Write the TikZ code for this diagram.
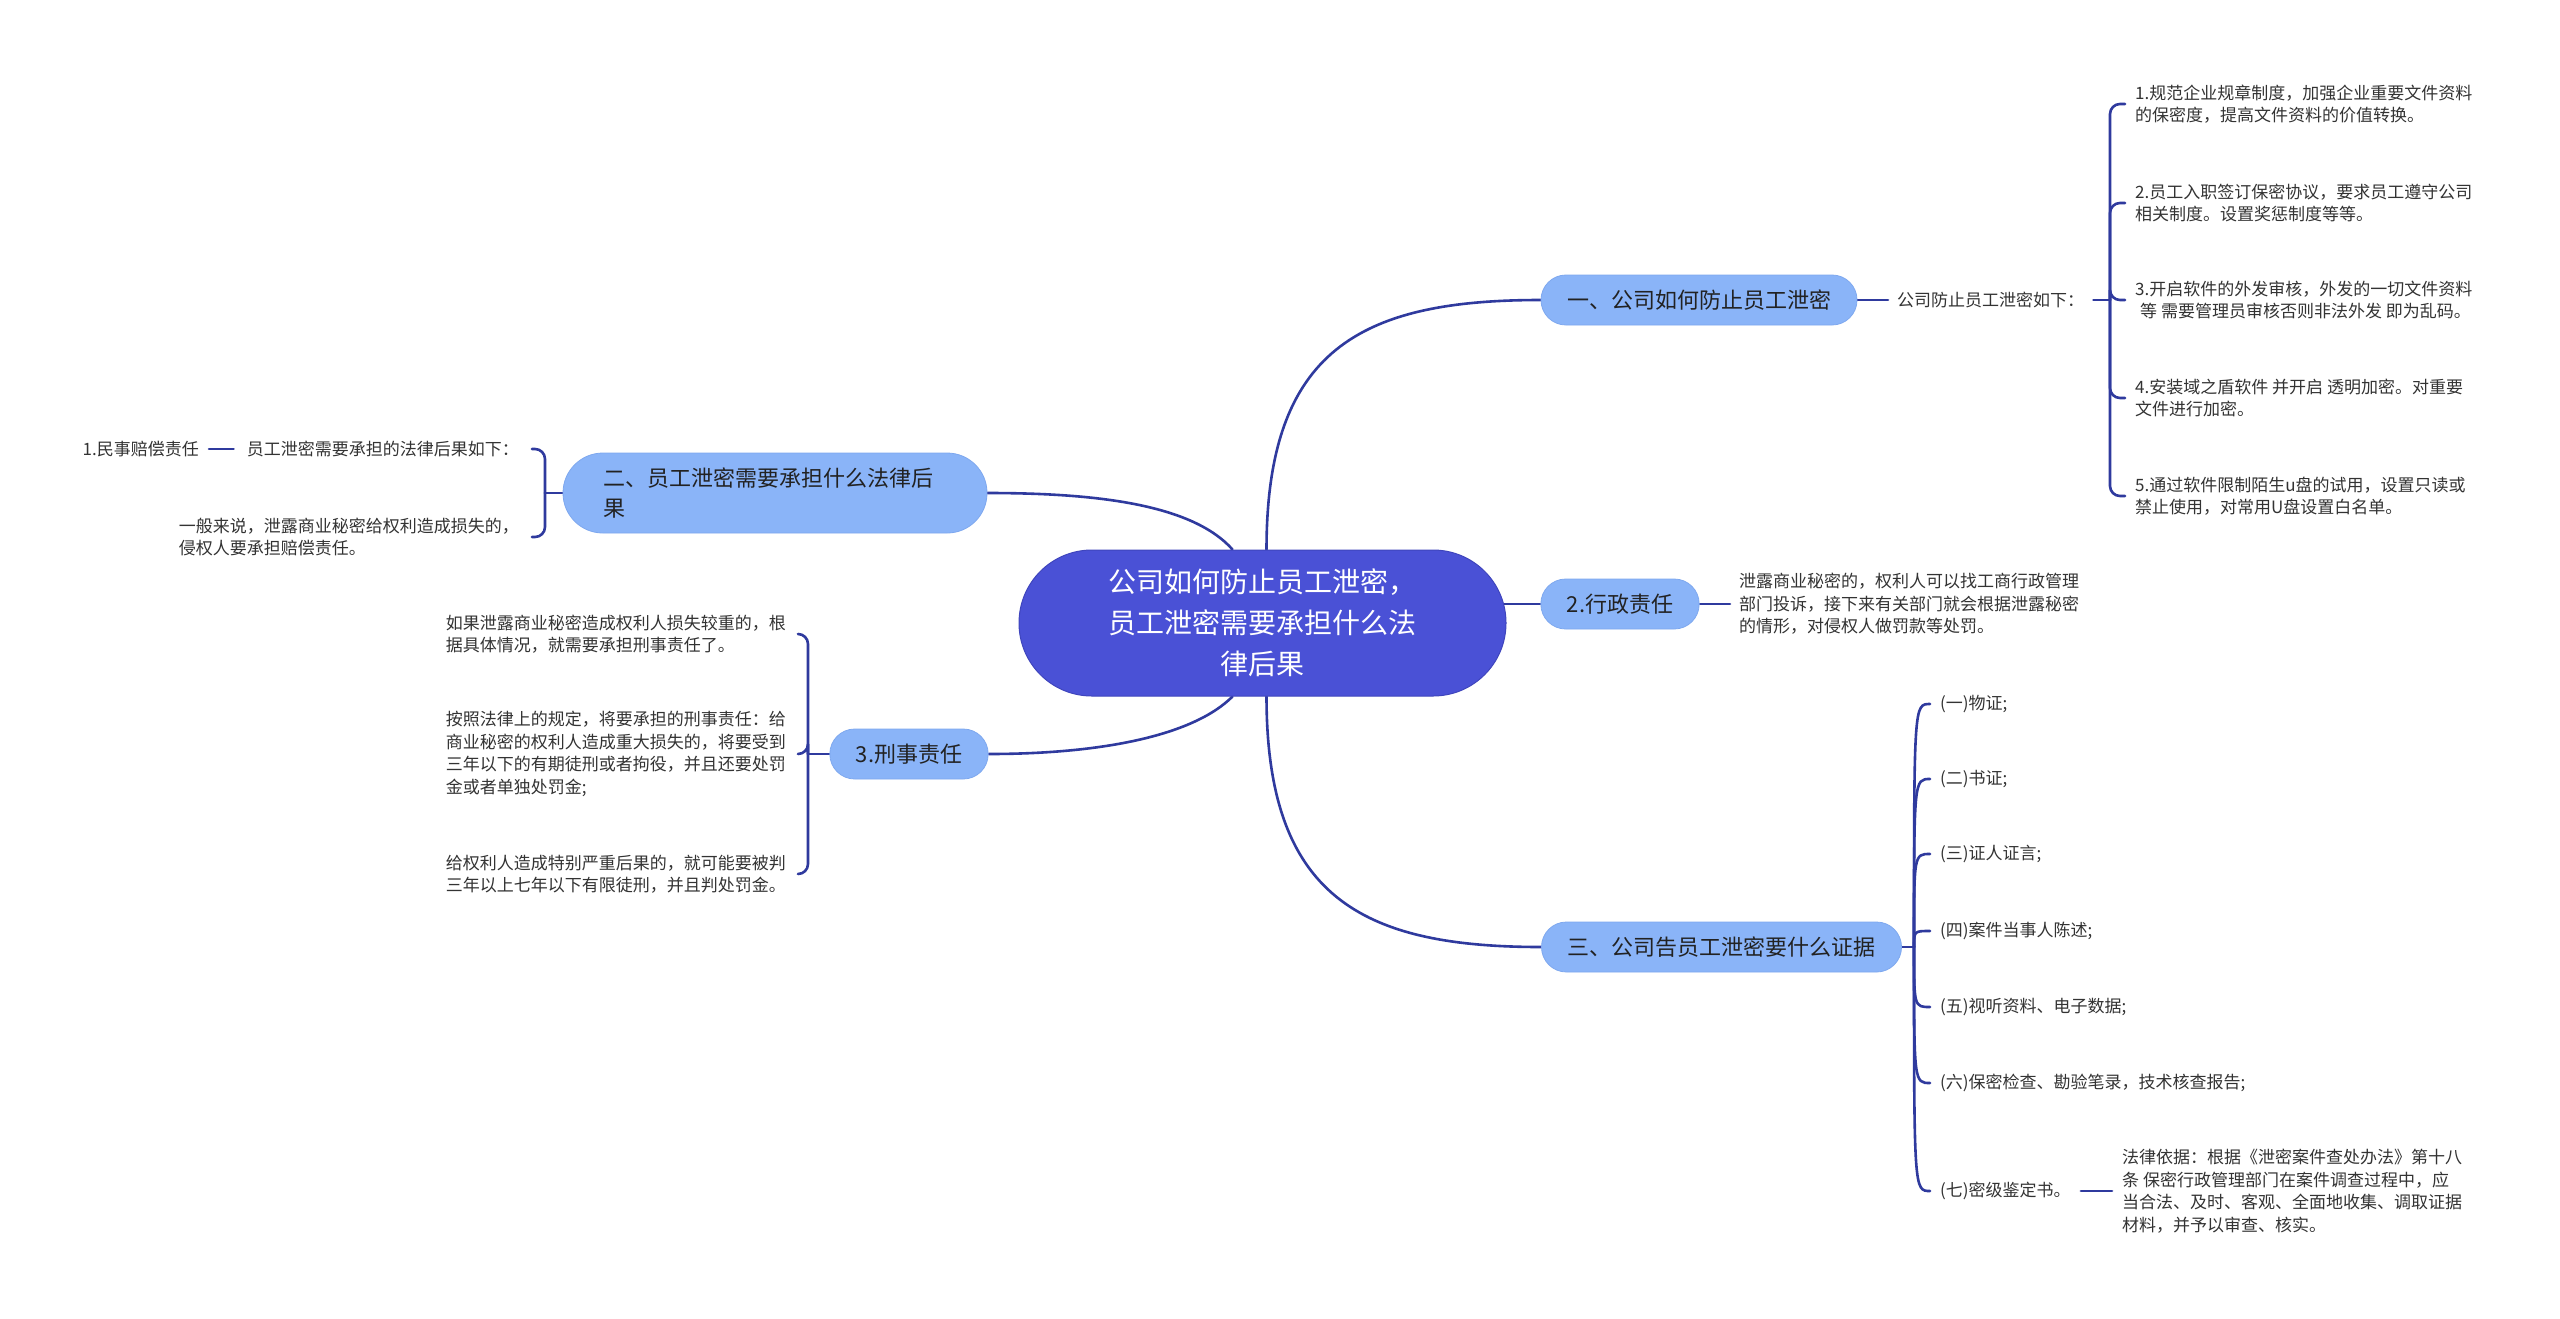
\documentclass[tikz,border=0pt]{standalone}
\usepackage{fontspec}
\setmainfont{Noto Sans CJK SC}
\usetikzlibrary{calc}
\definecolor{rootblue}{HTML}{4A51D6}
\definecolor{rootborder}{HTML}{3F45BD}
\definecolor{lightblue}{HTML}{8AB4F8}
\definecolor{lightborder}{HTML}{7EA8EF}
\definecolor{linkblue}{HTML}{2F3A9E}
\definecolor{leaftext}{HTML}{333333}
\definecolor{topictext}{HTML}{222222}
\pgfdeclarelayer{bglayer}
\pgfdeclarelayer{linklayer}
\pgfsetlayers{bglayer,linklayer,main}
\tikzset{
  rootnode/.style={draw=rootborder, line width=1pt, fill=rootblue, text=white,
    rounded corners=72.9pt, minimum width=487pt, minimum height=146pt,
    align=center, font=\fontsize{28}{41}\selectfont, inner sep=0pt},
  topic/.style={draw=lightborder, line width=0.8pt, fill=lightblue, text=topictext,
    rounded corners=24.9pt, minimum height=50pt, inner xsep=26pt, inner ysep=0pt,
    font=\fontsize{22}{30}\selectfont},
  leaf/.style={text=leaftext, font=\fontsize{17}{22.5}\selectfont, align=left,
    inner ysep=0pt, inner xsep=10pt},
  link/.style={draw=linkblue, line width=2.6pt, line cap=round},
}
\begin{document}
\begin{tikzpicture}[x=1pt,y=-1pt]
\begin{pgfonlayer}{bglayer}
  \fill[white] (0,0) rectangle (2560,1318);
\end{pgfonlayer}
\useasboundingbox (0,0) rectangle (2560,1318);

% root
\node[rootnode] (root) at (1262.5,623) {公司如何防止员工泄密，\\员工泄密需要承担什么法\\律后果};

% branch 1 (right top)
\node[topic] (c1) at (1699,300) {一、公司如何防止员工泄密};
\node[leaf, anchor=west, inner xsep=9pt] (c1a) at (1888,300) {公司防止员工泄密如下：};
\coordinate (j1) at (2110,300);
\node[leaf, anchor=west] (c1i1) at (2125,104) {1.规范企业规章制度，加强企业重要文件资料\\的保密度，提高文件资料的价值转换。};
\node[leaf, anchor=west] (c1i2) at (2125,203) {2.员工入职签订保密协议，要求员工遵守公司\\相关制度。设置奖惩制度等等。};
\node[leaf, anchor=west] (c1i3) at (2125,300) {3.开启软件的外发审核，外发的一切文件资料\\\hspace*{5pt}等 需要管理员审核否则非法外发 即为乱码。};
\node[leaf, anchor=west] (c1i4) at (2125,398) {4.安装域之盾软件 并开启 透明加密。对重要\\文件进行加密。};
\node[leaf, anchor=west] (c1i5) at (2125,496) {5.通过软件限制陌生u盘的试用，设置只读或\\禁止使用，对常用U盘设置白名单。};

% branch 2 (right middle)
\node[topic] (c2) at (1620,604) {2.行政责任};
\node[leaf, anchor=west, inner xsep=9pt] (c2a) at (1730,604) {泄露商业秘密的，权利人可以找工商行政管理\\部门投诉，接下来有关部门就会根据泄露秘密\\的情形，对侵权人做罚款等处罚。};

% branch 3 (right bottom)
\node[topic] (c3) at (1721.5,947) {三、公司告员工泄密要什么证据};
\coordinate (j3) at (1914,947);
\node[leaf, anchor=west] (e1) at (1930,704) {(一)物证;};
\node[leaf, anchor=west] (e2) at (1930,779) {(二)书证;};
\node[leaf, anchor=west] (e3) at (1930,854) {(三)证人证言;};
\node[leaf, anchor=west] (e4) at (1930,931) {(四)案件当事人陈述;};
\node[leaf, anchor=west] (e5) at (1930,1007) {(五)视听资料、电子数据;};
\node[leaf, anchor=west] (e6) at (1930,1083) {(六)保密检查、勘验笔录，技术核查报告;};
\node[leaf, anchor=west] (e7) at (1930,1191) {(七)密级鉴定书。};
\node[leaf, anchor=west] (e7a) at (2112,1191) {法律依据：根据《泄密案件查处办法》第十八\\条 保密行政管理部门在案件调查过程中，应\\当合法、及时、客观、全面地收集、调取证据\\材料，并予以审查、核实。};

% branch 4 (left top)
\node[topic, minimum height=80pt, rounded corners=39.9pt, inner xsep=40pt, text width=344pt, align=left] (n2) at (775,493) {二、员工泄密需要承担什么法律后\\果};
\coordinate (j2) at (545,493);
\node[leaf, anchor=east, inner xsep=13pt] (n2a) at (532,449) {员工泄密需要承担的法律后果如下：};
\node[leaf, anchor=east, inner xsep=10pt] (n2a1) at (209,449) {1.民事赔偿责任};
\node[leaf, anchor=east, inner xsep=13pt] (n2b) at (532,537) {一般来说，泄露商业秘密给权利造成损失的，\\侵权人要承担赔偿责任。};

% branch 5 (left bottom)
\node[topic] (n3) at (909,754) {3.刑事责任};
\coordinate (j4) at (808,754);
\node[leaf, anchor=east, inner xsep=12pt] (t1) at (798,634) {如果泄露商业秘密造成权利人损失较重的，根\\据具体情况，就需要承担刑事责任了。};
\node[leaf, anchor=east, inner xsep=12pt] (t2) at (798,754) {按照法律上的规定，将要承担的刑事责任：给\\商业秘密的权利人造成重大损失的，将要受到\\三年以下的有期徒刑或者拘役，并且还要处罚\\金或者单独处罚金;};
\node[leaf, anchor=east, inner xsep=12pt] (t3) at (798,874) {给权利人造成特别严重后果的，就可能要被判\\三年以上七年以下有限徒刑，并且判处罚金。};

% connectors
\begin{pgfonlayer}{linklayer}
  % root to topics
  \draw[link] ([xshift=4pt]root.north) .. controls +(0,-200) and +(-180,0) .. (c1.west);
  \draw[link] ([xshift=4pt]root.south) .. controls +(0,200) and +(-180,0) .. (c3.west);
  \draw[link] (c2.west) -- (c2.west -| root.center);
  \draw[link] ([xshift=-30pt]root.north) .. controls +(-40,-45) and +(110,0) .. (n2.east);
  \draw[link] ([xshift=-30pt]root.south) .. controls +(-40,40) and +(110,0) .. (n3.east);
  % branch 1
  \draw[link] (c1.east) -- (c1a.west);
  \draw[link] (c1a.east) -- (j1);
  \foreach \k in {c1i1,c1i2,c1i3,c1i4,c1i5}
    \draw[link, rounded corners=10pt] (j1) |- (\k.west);
  % branch 2
  \draw[link] (c2.east) -- (c2a.west);
  % branch 3
  \draw[link] (c3.east) -- (j3);
  \foreach \k in {e1,e2,e3,e4,e5,e6,e7}
    \draw[link] (j3) .. controls (j3 |- \k.west) and (j3 |- \k.west) .. (\k.west);
  \draw[link] (e7.east) -- (e7a.west);
  % branch 4
  \draw[link] (n2.west) -- (j2);
  \foreach \k in {n2a,n2b}
    \draw[link, rounded corners=10pt] (j2) |- (\k.east);
  \draw[link] (n2a1.east) -- (n2a.west);
  % branch 5
  \draw[link] (n3.west) -- (j4);
  \foreach \k in {t1,t2,t3}
    \draw[link, rounded corners=10pt] (j4) |- (\k.east);
\end{pgfonlayer}
\end{tikzpicture}
\end{document}
